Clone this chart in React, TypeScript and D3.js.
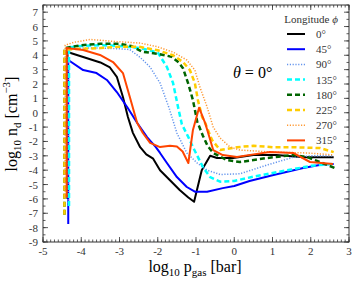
import * as d3 from "d3";

// axis ticks
const xTickValues = [-5, -4, -3, -2, -1, 0, 1, 2, 3];
const yTickValues = [-9, -8, -7, -6, -5, -4, -3, -2, -1, 0, 1, 2, 3, 4, 5, 6, 7];

const longitudes = ["0°", "45°", "90°", "135°", "180°", "225°", "270°", "315°"];

// log10 p_gas / log10 n_d per longitude
const p0 = [-4.36, -4.36, -3.95, -3.5, -3.25, -3.07, -2.91, -2.78, -2.65, -2.46, -2.3, -2.12, -1.94, -1.68, -1.42, -1.2, -1.05, -0.85, -0.63, -0.45, -0.03, 0.5, 1.1, 1.8, 2.6];
const n0 = [-6.0, 4.23, 3.88, 3.5, 3.15, 2.5, 1.1, -0.3, -1.4, -2.4, -2.9, -3.2, -4.0, -4.7, -5.4, -5.9, -6.2, -4.0, -3.0, -3.15, -3.15, -2.95, -2.95, -3.1, -3.1];

const p45 = [-4.34, -4.34, -3.95, -3.6, -3.33, -3.07, -2.8, -2.54, -2.28, -2.05, -1.94, -1.76, -1.5, -1.24, -1.03, -0.71, -0.3, 0.0, 0.4, 1.0, 1.8, 2.3, 2.6];
const n45 = [-7.75, 3.67, 2.97, 2.76, 2.28, 1.44, 0.4, -0.7, -1.7, -2.4, -2.8, -3.5, -4.48, -5.17, -5.5, -5.5, -5.25, -5.1, -4.75, -4.35, -3.85, -3.6, -3.57];

const p90 = [-4.34, -4.34, -4.0, -3.5, -3.0, -2.73, -2.46, -2.2, -1.94, -1.7, -1.5, -1.24, -0.97, -0.71, -0.37, 0.15, 0.86, 1.54, 2.0, 2.6];
const n90 = [-6.5, 4.4, 4.5, 4.5, 4.45, 4.4, 3.85, 3.18, 2.07, 0.3, -1.41, -2.8, -3.5, -4.0, -4.3, -4.25, -3.64, -3.1, -3.0, -3.0];

const p135 = [-4.32, -4.32, -4.0, -3.5, -3.0, -2.46, -2.0, -1.76, -1.6, -1.47, -1.37, -1.2, -1.08, -0.82, -0.63, -0.37, 0.0, 0.5, 1.0, 1.5, 2.0, 2.6];
const n135 = [-6.5, 4.55, 4.65, 4.7, 4.65, 4.5, 4.2, 3.18, 2.07, 0.4, -0.8, -1.7, -2.39, -3.78, -4.48, -4.8, -4.75, -4.45, -4.2, -3.95, -3.7, -3.55];

const p180 = [-4.44, -4.44, -4.0, -3.5, -3.0, -2.7, -2.4, -2.0, -1.64, -1.45, -1.34, -1.2, -1.08, -0.97, -0.82, -0.7, -0.55, -0.19, 0.15, 0.86, 1.54, 1.9, 2.24, 2.63];
const n180 = [-7.1, 4.5, 4.7, 4.8, 4.8, 4.65, 4.25, 4.1, 3.9, 3.5, 3.1, 2.0, 0.88, -0.6, -1.6, -2.3, -2.8, -3.3, -3.43, -3.15, -2.94, -3.08, -3.43, -3.85];

const p225 = [-4.44, -4.44, -4.0, -3.5, -3.0, -2.5, -2.0, -1.6, -1.34, -1.16, -1.03, -0.95, -0.84, -0.76, -0.58, -0.37, 0.07, 0.5, 1.0, 1.54, 2.24, 2.6];
const n225 = [-7.1, 4.4, 4.45, 4.5, 4.6, 4.6, 4.35, 4.0, 3.53, 2.97, 2.07, 0.88, -0.3, -0.72, -1.9, -2.6, -2.4, -2.3, -2.4, -2.4, -2.46, -2.74];

const p270 = [-4.42, -4.42, -4.2, -3.77, -3.07, -2.46, -2.02, -1.6, -1.24, -1.03, -0.9, -0.71, -0.55, -0.37, -0.11, 0.15, 1.0, 1.9, 2.6];
const n270 = [-5.9, 4.7, 4.9, 5.1, 4.95, 4.85, 4.6, 4.22, 3.67, 2.97, 1.8, 0.4, -1.0, -1.76, -2.39, -2.6, -2.74, -2.8, -2.94];

const p315 = [-4.38, -4.38, -3.95, -3.51, -3.17, -2.91, -2.73, -2.54, -2.39, -2.2, -1.94, -1.68, -1.5, -1.35, -1.2, -1.08, -0.92, -0.76, -0.55, -0.3, 0.07, 0.5, 0.93, 1.54, 1.98, 2.58];
const n315 = [-5.9, 4.5, 4.37, 4.02, 3.53, 2.76, 1.1, -0.7, -1.41, -2.1, -2.39, -2.3, -2.35, -2.7, -3.5, -1.2, 0.35, -0.72, -2.6, -2.95, -3.08, -2.9, -2.74, -2.8, -3.43, -3.57];

const pData = [p0, p45, p90, p135, p180, p225, p270, p315];
const nData = [n0, n45, n90, n135, n180, n225, n270, n315];

const styles = [
  { color: "#000000", width: 2, dash: "" },
  { color: "#0000ff", width: 2, dash: "" },
  { color: "#6495ed", width: 1.5, dash: "1.2,1.6" },
  { color: "#00ffff", width: 2.5, dash: "5,3" },
  { color: "#006400", width: 2.5, dash: "5,3" },
  { color: "#ffcc00", width: 2.5, dash: "5,3" },
  { color: "#ff9933", width: 1.5, dash: "1.2,1.6" },
  { color: "#ff4500", width: 2, dash: "" },
];

const W = 357;
const H = 286;
const left = 43, right = 349, top = 5, bottom = 242;
const font = "'Liberation Serif', 'DejaVu Serif', serif";

const App = () => {
  const x = d3.scaleLinear().domain([-5, 3]).range([left, right]);
  const y = d3.scaleLinear().domain([-9, 7.5]).range([bottom, top]);

  const line = d3
    .line<[number, number]>()
    .x((d) => x(d[0]))
    .y((d) => y(d[1]));

  const xMinor = d3.range(-5, 3.001, 0.1);
  const yMinor = d3.range(-9, 7.501, 0.5);

  return (
    <svg
      width={W}
      height={H}
      style={{ position: "absolute", left: 0, top: 0, background: "#fff" }}
      fontFamily={font}
    >
      <defs>
        <clipPath id="plot">
          <rect x={left} y={top} width={right - left} height={bottom - top} />
        </clipPath>
      </defs>
      <g clipPath="url(#plot)">
        {pData.map((ps, i) => (
          <path
            key={i}
            d={line(ps.map((p, j) => [p, nData[i][j]] as [number, number])) || ""}
            fill="none"
            stroke={styles[i].color}
            strokeWidth={styles[i].width}
            strokeDasharray={styles[i].dash}
            strokeLinejoin="round"
          />
        ))}
      </g>

      {/* frame and ticks */}
      <rect x={left} y={top} width={right - left} height={bottom - top} fill="none" stroke="#333" strokeWidth={1} />
      <g stroke="#333" strokeWidth={0.8}>
        {xMinor.map((v, i) => (
          <g key={"xm" + i}>
            <line x1={x(v)} x2={x(v)} y1={bottom} y2={bottom - 2.5} />
            <line x1={x(v)} x2={x(v)} y1={top} y2={top + 2.5} />
          </g>
        ))}
        {xTickValues.map((v) => (
          <g key={"xM" + v}>
            <line x1={x(v)} x2={x(v)} y1={bottom} y2={bottom - 5} />
            <line x1={x(v)} x2={x(v)} y1={top} y2={top + 5} />
          </g>
        ))}
        {yMinor.map((v, i) => (
          <g key={"ym" + i}>
            <line x1={left} x2={left + 2.5} y1={y(v)} y2={y(v)} />
            <line x1={right} x2={right - 2.5} y1={y(v)} y2={y(v)} />
          </g>
        ))}
        {yTickValues.map((v) => (
          <g key={"yM" + v}>
            <line x1={left} x2={left + 5} y1={y(v)} y2={y(v)} />
            <line x1={right} x2={right - 5} y1={y(v)} y2={y(v)} />
          </g>
        ))}
      </g>
      <g fontSize={11} fill="#333">
        {xTickValues.map((v) => (
          <text key={"xl" + v} x={x(v)} y={bottom + 13} textAnchor="middle">
            {v < 0 ? "-" + Math.abs(v) : v}
          </text>
        ))}
        {yTickValues.map((v) => (
          <text key={"yl" + v} x={left - 5} y={y(v) + 4} textAnchor="end">
            {v < 0 ? "-" + Math.abs(v) : v}
          </text>
        ))}
      </g>

      {/* axis labels */}
      <text x={195} y={272} textAnchor="middle" fontSize={16}>
        log<tspan fontSize={11} dy={4}>10</tspan>
        <tspan dy={-4}> p</tspan>
        <tspan fontSize={11} dy={4}>gas</tspan>
        <tspan dy={-4}> [bar]</tspan>
      </text>
      <text transform="translate(17,124) rotate(-90)" textAnchor="middle" fontSize={16}>
        log<tspan fontSize={11} dy={4}>10</tspan>
        <tspan dy={-4}> n</tspan>
        <tspan fontSize={11} dy={4}>d</tspan>
        <tspan dy={-4}> [cm</tspan>
        <tspan fontSize={11} dy={-7}>−3</tspan>
        <tspan dy={7}>]</tspan>
      </text>

      <text x={233} y={78} fontSize={16}>
        <tspan fontStyle="italic">θ</tspan> = 0°
      </text>

      {/* legend */}
      <text x={311} y={23} textAnchor="middle" fontSize={11} fill="#333">
        Longitude <tspan fontStyle="italic">ϕ</tspan>
      </text>
      {longitudes.map((lab, i) => {
        const ly = 34 + i * 15.2;
        return (
          <g key={lab}>
            <line
              x1={287}
              x2={305}
              y1={ly}
              y2={ly}
              stroke={styles[i].color}
              strokeWidth={styles[i].width}
              strokeDasharray={styles[i].dash}
            />
            <text x={316} y={ly + 4} fontSize={11} fill="#333">
              {lab}
            </text>
          </g>
        );
      })}
    </svg>
  );
};

export default App;
